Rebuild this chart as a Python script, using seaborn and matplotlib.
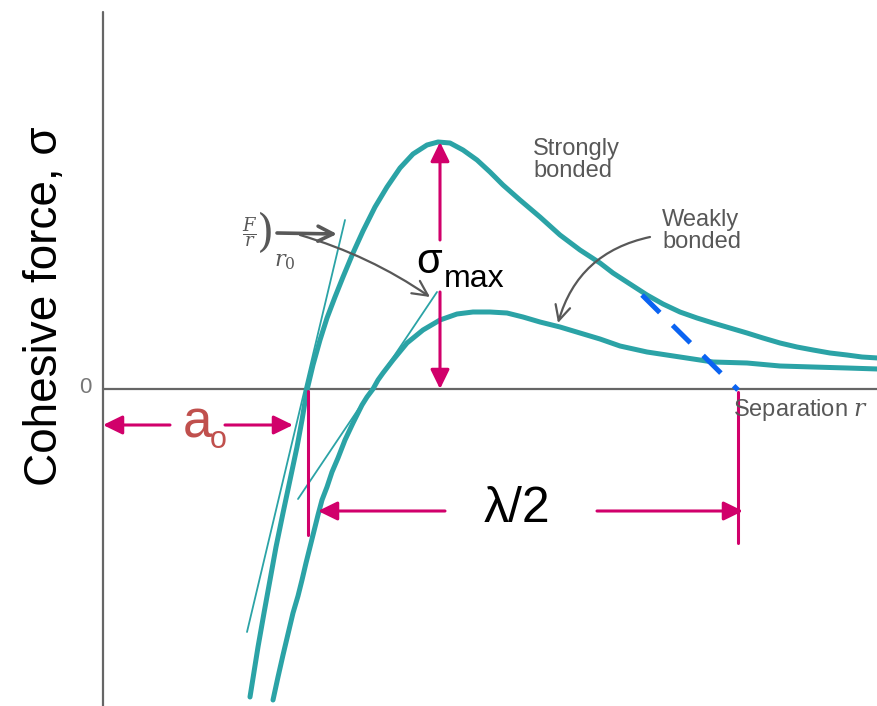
import matplotlib
matplotlib.use("Agg")
import matplotlib.pyplot as plt
import seaborn as sns
import numpy as np
import pandas as pd

sns.set_theme(style="white")
plt.rcParams['font.family'] = ['Liberation Sans', 'DejaVu Sans']

# separation r and cohesive force sigma (origin at the axes crossing)
strong_r = [147, 151, 155, 161, 167, 173, 180, 187, 194, 199, 204, 210, 217, 224, 232, 240, 250, 260,
            272, 284, 297, 310, 324, 335, 347, 360, 374, 387, 400, 417, 437, 457, 477, 497, 510,
            527, 544, 560, 577, 594, 610, 627, 644, 660, 677, 694, 710, 727, 744, 759, 775]
strong_s = [-308, -283, -258, -224, -191, -158, -124, -91, -58, -31, -1, 24, 49, 71, 92, 112, 136, 158,
            182, 202, 221, 235, 244, 247, 246, 239, 229, 217, 204, 189, 172, 154, 139, 126, 116,
            105, 94, 85, 77, 71, 66, 61, 56, 51, 46, 42, 39, 36, 34, 32, 31]

weak_r = [170, 175, 180, 185, 190, 195, 199, 203, 207, 211, 215, 219, 224, 229, 235, 242, 250, 259,
          264, 270, 275, 280, 290, 304, 320, 337, 354, 370, 387, 404, 420, 437, 457, 477, 497,
          517, 544, 577, 610, 644, 677, 710, 744, 775]
weak_s = [-311, -288, -266, -245, -224, -207, -191, -174, -158, -142, -126, -111, -98, -83, -69, -51, -34, -16,
          -8, 0, 9, 16, 29, 46, 59, 69, 75, 77, 77, 76, 72, 67, 62, 56, 50,
          43, 37, 32, 27, 26, 23, 22, 21, 20]

# tangents at r0 and the linear extrapolation to the axis
tan_strong_r = [144, 242]
tan_strong_s = [-243, 169]
tan_weak_r = [195, 334]
tan_weak_s = [-110, 97]
extrap_r = [539, 635]
extrap_s = [94, -1]

a0 = 205          # equilibrium spacing (magenta marker)
r_break = 635     # end of lambda/2
sigma_max = 247
r_sigma = 337

teal = "#2ba3a6"
magenta = "#d1006b"
gray = "#585858"
red = "#c0504d"
blue = "#0a63f2"

plt.rcParams['mathtext.fontset'] = 'dejavuserif'

fig = plt.figure(figsize=(8.78, 7.06), dpi=100)
ax = fig.add_axes([0, 0, 1, 1])
ax.set_xlim(-103, 775)
ax.set_ylim(-317, 389)
ax.axis("off")

# axes lines
ax.plot([0, 0], [-317, 377], color="#666666", lw=1.6)
ax.plot([0, 775], [0, 0], color="#666666", lw=1.6)
ax.text(-18, 1, "0", color="#777777", fontsize=16, ha="center", va="center")

sns.lineplot(x=strong_r, y=strong_s, sort=False, color=teal, lw=3.6, ax=ax)
sns.lineplot(x=weak_r, y=weak_s, sort=False, color=teal, lw=3.6, ax=ax)
sns.lineplot(x=tan_strong_r, y=tan_strong_s, sort=False, color=teal, lw=1.3, ax=ax)
sns.lineplot(x=tan_weak_r, y=tan_weak_s, sort=False, color=teal, lw=1.3, ax=ax)
sns.lineplot(x=extrap_r, y=extrap_s, sort=False, color=blue, lw=3.6, ax=ax).lines[-1].set_dashes([5, 3.6])

# magenta markers
ax.plot([a0, a0], [-2, -146], color=magenta, lw=2.2)
ax.plot([r_break, r_break], [-3, -154], color=magenta, lw=2.2)

harrow = dict(arrowstyle="-|>,head_length=0.45,head_width=0.22", color=magenta, lw=2.2,
              mutation_scale=26, shrinkA=0, shrinkB=0)
ax.annotate("", xy=(a0 + 10, -122), xytext=(342, -122), arrowprops=harrow)
ax.annotate("", xy=(r_break + 5, -122), xytext=(494, -122), arrowprops=harrow)
ax.text(414, -120, "λ/2", fontsize=36, ha="center", va="center", color="black")

ax.annotate("", xy=(0, -36), xytext=(67, -36), arrowprops=harrow)
ax.annotate("", xy=(a0 - 15, -36), xytext=(122, -36), arrowprops=harrow)
ax.text(94, -35, "a", fontsize=38, color=red, ha="center", va="center")
ax.text(115, -51, "o", fontsize=22, color=red, ha="center", va="center")

ax.annotate("", xy=(r_sigma, sigma_max), xytext=(r_sigma, 149), arrowprops=harrow)
ax.annotate("", xy=(r_sigma, 0), xytext=(r_sigma, 97), arrowprops=harrow)
ax.text(326, 116, "σ", fontsize=30, ha="center", va="baseline", color="black")
ax.text(371, 102, "max", fontsize=23, ha="center", va="baseline", color="black")

# gray labels and pointers
garrow = dict(arrowstyle="->,head_length=0.6,head_width=0.3", color=gray, lw=1.6,
              mutation_scale=18, shrinkA=0, shrinkB=0)
ax.annotate("", xy=(234, 155), xytext=(174, 156),
            arrowprops=dict(garrow, lw=2.6))
ax.annotate("", xy=(327, 92), xytext=(197, 154),
            arrowprops=dict(garrow, connectionstyle="arc3,rad=-0.08"))
ax.annotate("", xy=(455, 66), xytext=(547, 152),
            arrowprops=dict(garrow, connectionstyle="arc3,rad=0.3"))

ax.text(147, 157, r"$\dfrac{F}{r}$", fontsize=13, color=gray, ha="center", va="center")
ax.text(163, 156, ")", fontsize=32, color=gray, ha="center", va="center", family="DejaVu Serif")
ax.text(182, 127, "$r_0$", fontsize=16, color=gray, ha="center", va="center")

ax.text(430, 229, "Strongly\nbonded", fontsize=17, color=gray, ha="left", va="center",
        linespacing=0.95)
ax.text(559, 158, "Weakly\nbonded", fontsize=17, color=gray, ha="left", va="center",
        linespacing=0.95)
ax.text(630, -21, "Separation $r$", fontsize=17, color=gray, ha="left", va="center")

ax.text(-58, 83, "Cohesive force, σ", fontsize=33, rotation=90, ha="center", va="center",
        color="black")

fig.savefig("out.png", dpi=100)
